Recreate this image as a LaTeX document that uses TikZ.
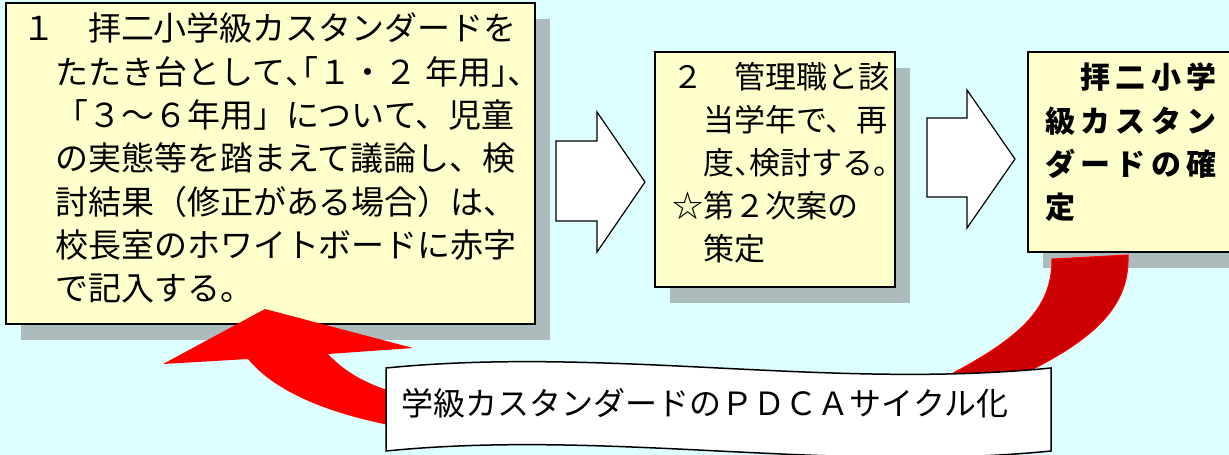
\documentclass[tikz,border=0pt]{standalone}
\usepackage{fontspec}
\usepackage{xcolor}
\usetikzlibrary{shadows}
\newfontfamily\jpfont{Noto Sans CJK JP}
\definecolor{bgcyan}{RGB}{221,255,255}
\definecolor{noteyellow}{RGB}{255,255,204}
\definecolor{shadowgray}{RGB}{172,188,188}
\definecolor{arrowred}{RGB}{255,0,0}
\definecolor{arrowdark}{RGB}{204,0,0}
% half-width punctuation
\newcommand{\halfw}[1]{{\addfontfeature{RawFeature=+halt}#1}}
\begin{document}
\begin{tikzpicture}[x=1pt, y=-1pt,
    notebox/.style={rectangle, draw=black, line width=1.5pt, fill=noteyellow,
      anchor=north west, inner xsep=16pt, inner ysep=10pt, outer sep=0pt,
      drop shadow={shadow xshift=15pt, shadow yshift=-16pt, fill=shadowgray, opacity=1}},
    blockarrow/.style={draw=black, line width=1.2pt, fill=white, line join=miter},
    banner/.style={draw=black, line width=1.5pt, fill=white}]
    \useasboundingbox (0,0) rectangle (1229,455);
    \clip (0,0) rectangle (1229,455);
    \fill[bgcyan] (0,0) rectangle (1229,455);

    % Define nodes
    \node [notebox] (draft) at (6,3) {\parbox[c][301pt][t]{497pt}{\jpfont\fontsize{33}{43.3}\selectfont
      \hangindent=1em \hangafter=1 \rightskip=0pt minus 30pt
      １　拝二小学級カスタンダードを\\
      たたき台として\halfw{、「}１・２\kern.25em 年用\halfw{」、}\\
      「３～６年用」について、児童\\
      の実態等を踏まえて議論し、検\\
      討結果（修正がある場合）は、\\
      校長室のホワイトボードに赤字\\
      で記入する。}};
    \node [notebox, inner xsep=17pt] (review) at (655,52) {\parbox[c][215pt][t]{206pt}{\jpfont\fontsize{31}{43}\selectfont
      ２　管理職と該\\
      \hspace*{1em}当学年で、再\\
      \hspace*{1em}度\halfw{、}検討する。\\
      ☆第２次案の\\
      \hspace*{1em}策定}};
    \node [notebox, inner xsep=17pt, inner ysep=11pt] (final) at (1028,52) {\parbox[c][178pt][t]{200pt}{\jpfont\bfseries\fontsize{30}{43.3}\selectfont
      \addfontfeature{LetterSpace=18}
      　拝二小学\\
      級カスタン\\
      ダードの確\\
      定}};

    % Draw block arrows
    \draw [blockarrow] (556,141) -- (597,141) -- (597,112) -- (645,182) -- (597,252) -- (597,221) -- (556,221) -- cycle;
    \draw [blockarrow] (927,118) -- (967,118) -- (967,90) -- (1015,159) -- (967,228) -- (967,197) -- (927,197) -- cycle;

    % Curved return arrow
    \filldraw [fill=arrowdark, draw=arrowred, line width=1pt]
      (1052,259) -- (1128,255) .. controls (1130,310) and (1090,345) .. (995,387)
      -- (930,385) .. controls (1020,340) and (1052,310) .. (1052,259) -- cycle;
    \fill [arrowred] (265,309) -- (413,348) -- (328,354)
      .. controls (345,372) and (368,386) .. (405,395) -- (405,428)
      .. controls (330,415) and (275,392) .. (248,359) -- (163,364) -- cycle;

    % Banner
    \draw [banner] (386,368) .. controls (608,346) and (829,390) .. (1051,368)
      -- (1051,451) .. controls (829,473) and (608,429) .. (386,451) -- cycle;
    \node (pdca) at (705,403) {\jpfont\fontsize{32}{36}\selectfont 学級カスタンダードのＰＤＣＡサイクル化};
\end{tikzpicture}
\end{document}
